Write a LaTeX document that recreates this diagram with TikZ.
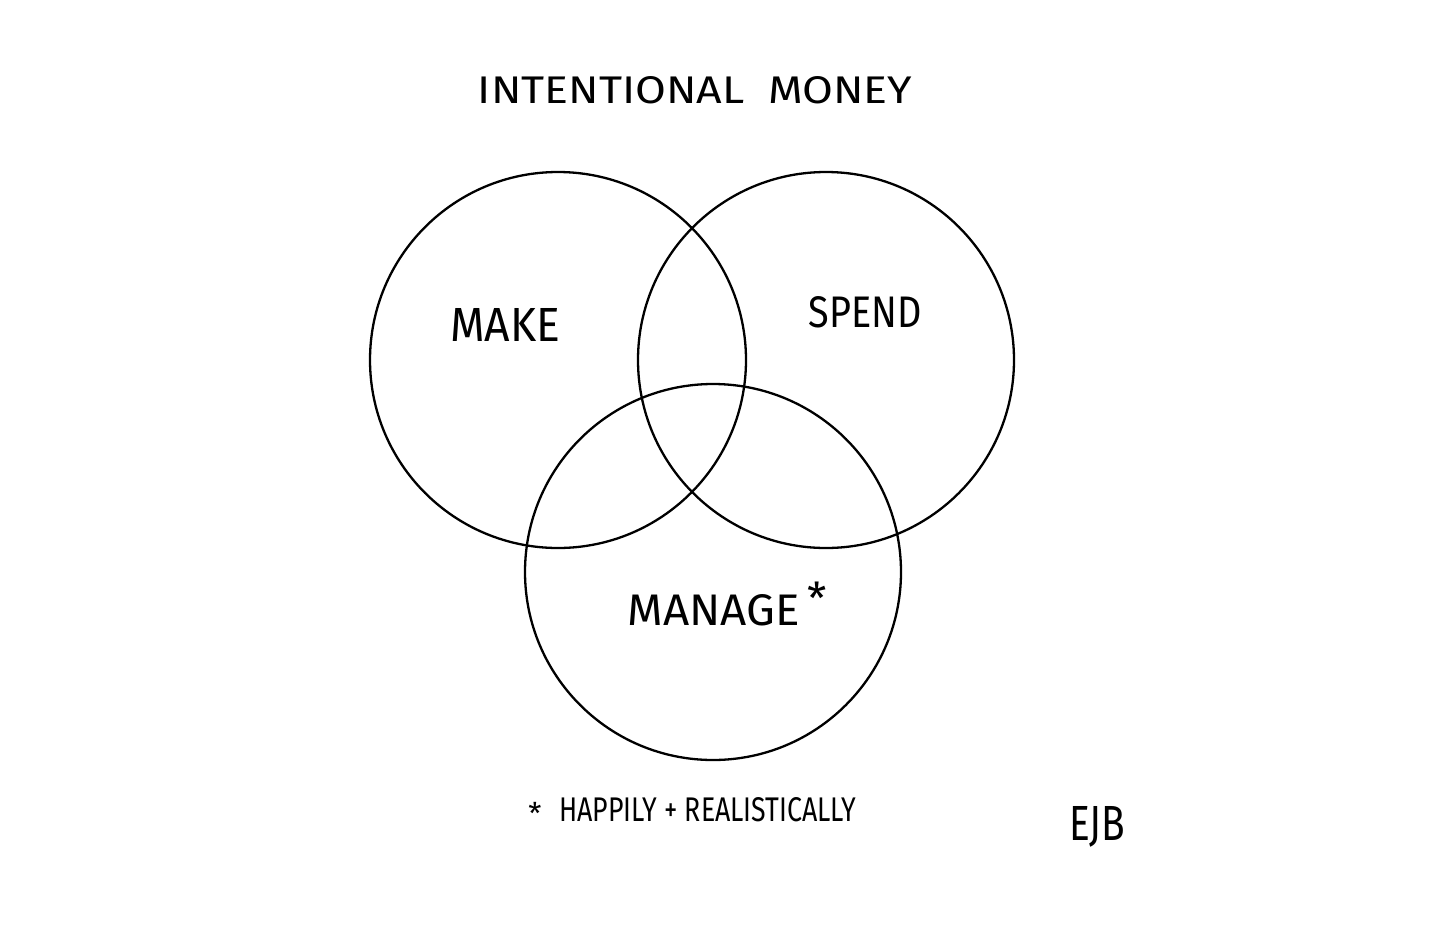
\documentclass[tikz,border=0pt]{standalone}
\usepackage{fontspec}
\setmainfont{Fira Sans}
\usepackage{graphicx}
\begin{document}
\begin{tikzpicture}[x=1pt,y=-1pt,
  ring/.style={draw=black,line width=2.3pt},
  hand/.style={inner sep=0pt,anchor=center,text=black}]
\useasboundingbox[fill=white] (0,0) rectangle (1456,932);
\node[ring,circle,minimum size=376pt,inner sep=0pt] (make) at (558,360) {};
\node[ring,circle,minimum size=376pt,inner sep=0pt] (spend) at (826,360) {};
\node[ring,circle,minimum size=376pt,inner sep=0pt] (manage) at (713,572) {};
\node[hand] (title) at (695,90) {\resizebox{434pt}{27pt}{INTENTIONAL\ \ MONEY}};
\node[hand] (lmake) at (505,325) {\resizebox{110pt}{33pt}{MAKE}};
\node[hand] (lspend) at (865,312) {\resizebox{113pt}{31pt}{SPEND}};
\node[hand] (lmanage) at (714,610) {\resizebox{172pt}{31pt}{MANAGE}};
\node[hand,anchor=north] (star) at (817,582) {\fontsize{44}{44}\selectfont *};
\node[hand,anchor=north] (fstar) at (535,802) {\fontsize{30}{30}\selectfont *};
\node[hand] (foot) at (708,810) {\resizebox{297pt}{24pt}{HAPPILY + REALISTICALLY}};
\node[hand] (sig) at (1097,827) {\resizebox{56pt}{34pt}{EJB}};
\end{tikzpicture}
\end{document}
